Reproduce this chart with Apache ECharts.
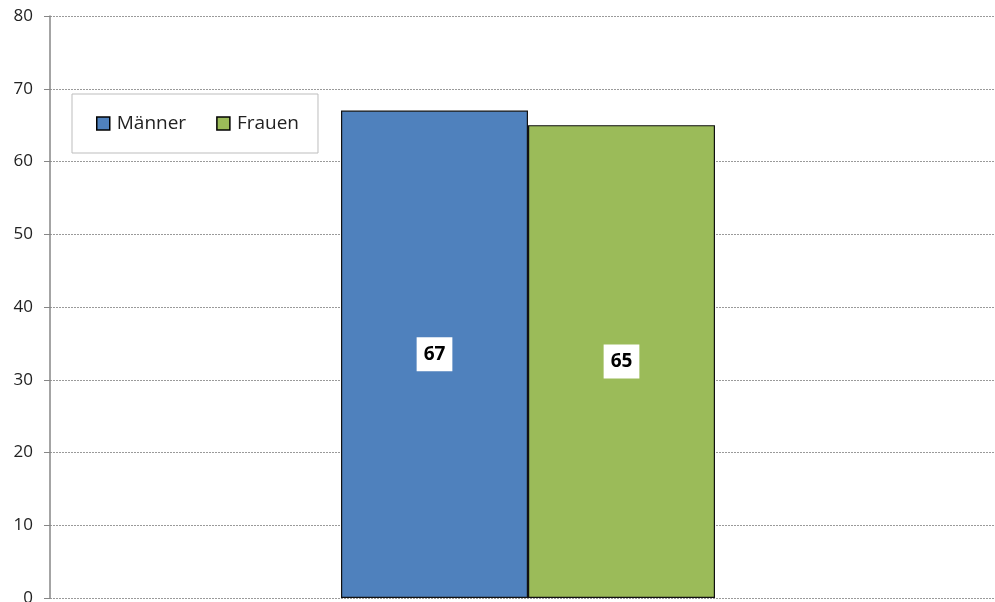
<!DOCTYPE html>
<html>
<head>
<meta charset="utf-8">
<script src="https://cdn.jsdelivr.net/npm/echarts@6/dist/echarts.min.js"></script>
<style>
  html, body { margin: 0; padding: 0; background: #fff; }
  #chart { width: 995px; height: 602px; }
</style>
</head>
<body>
<div id="chart"></div>
<script>
// data
const categories = ['']
const seriesNames = ['Männer', 'Frauen']
const maennerValues = [67]
const frauenValues = [65]
const yTicks = [0, 10, 20, 30, 40, 50, 60, 70, 80]

const colors = ['#4F81BD', '#9BBB59']
const font = '"Open Sans", Lato, sans-serif'

const chart = echarts.init(document.getElementById('chart'), null, { renderer: 'canvas' })

const labelStyle = {
  show: true,
  position: 'inside',
  color: '#000',
  fontFamily: font,
  fontSize: 19,
  fontWeight: 'bold',
  backgroundColor: '#fff',
  padding: [8, 7, 7, 7]
}

chart.setOption({
  animation: false,
  textStyle: { fontFamily: font },
  // grid runs past the right edge and "0" is clipped at the bottom, as in the original
  grid: { left: 50, right: -11, top: 16, bottom: 4, containLabel: false, outerBoundsMode: 'none' },
  legend: {
    left: 72,
    top: 94,
    padding: [20, 19, 20, 24],
    itemGap: 30,
    itemWidth: 13,
    itemHeight: 13,
    borderColor: '#bdbdbd',
    borderWidth: 1,
    backgroundColor: '#fff',
    textStyle: { fontFamily: font, fontSize: 19, color: '#222', padding: [0, 0, 0, 2] },
    data: seriesNames.map((n, i) => ({
      name: n,
      icon: 'rect',
      itemStyle: { color: colors[i], borderColor: '#000', borderWidth: 1.5 }
    }))
  },
  xAxis: {
    type: 'category',
    data: categories,
    axisLine: { show: false },
    axisTick: { show: false },
    axisLabel: { show: false }
  },
  yAxis: {
    type: 'value',
    min: yTicks[0],
    max: yTicks[yTicks.length - 1],
    interval: yTicks[1] - yTicks[0],
    axisLine: { show: true, lineStyle: { color: '#868686', width: 1.5 } },
    axisTick: { show: true, length: 6, lineStyle: { color: '#868686' } },
    axisLabel: { color: '#222', fontSize: 17, fontFamily: font, margin: 17 },
    splitLine: { show: true, lineStyle: { color: '#9a9a9a', type: [2, 1], width: 1 } }
  },
  series: [
    {
      name: seriesNames[0],
      type: 'bar',
      data: maennerValues,
      barWidth: 187,
      barGap: '0%',
      itemStyle: { color: colors[0], borderColor: '#111', borderWidth: 1.2 },
      label: labelStyle
    },
    {
      name: seriesNames[1],
      type: 'bar',
      data: frauenValues,
      barWidth: 187,
      barGap: '0%',
      itemStyle: { color: colors[1], borderColor: '#111', borderWidth: 1.2 },
      label: labelStyle
    }
  ]
})
</script>
</body>
</html>
